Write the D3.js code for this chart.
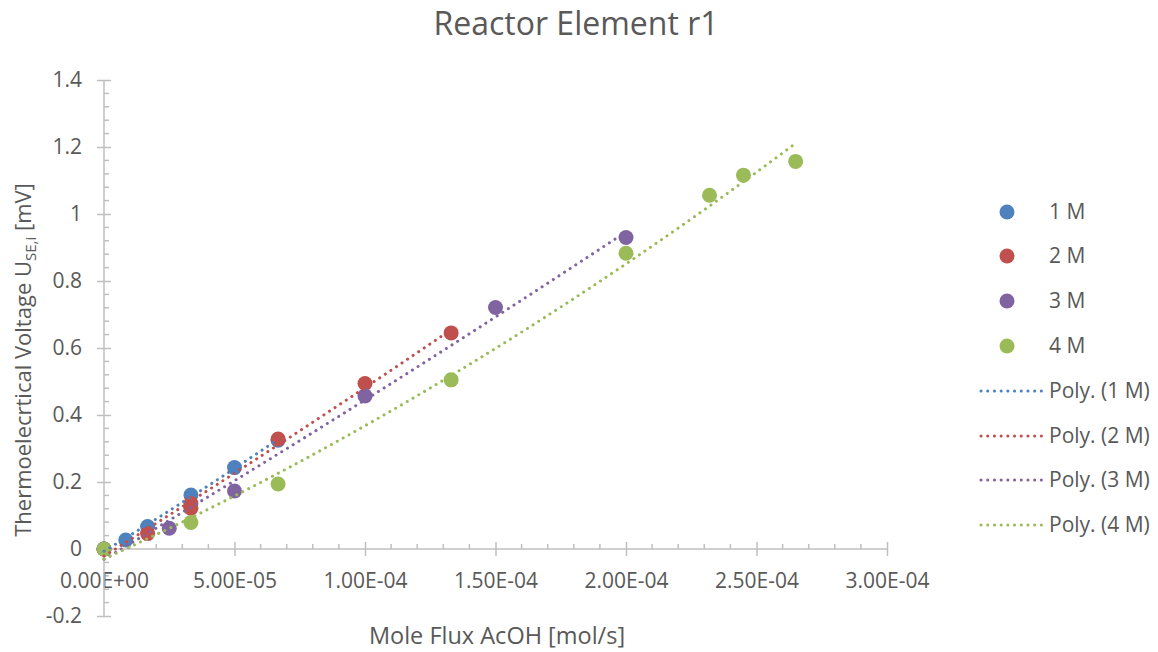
<!DOCTYPE html>
<html>
<head>
  <meta charset="utf-8">
  <title>Reactor Element r1</title>
  <script src="https://d3js.org/d3.v7.min.js"></script>
  <style>
    body { margin: 0; background: #fff; }
    svg text { font-family: "Open Sans", sans-serif; fill: #595959; }
  </style>
</head>
<body>
<div id="chart"></div>
<script>

// Data
const seriesNames = ["1 M", "2 M", "3 M", "4 M"];
const seriesColors = ["#4f81bd", "#c0504d", "#8064a2", "#9bbb59"];

const flux1 = [0, 8.33e-6, 1.67e-5, 3.33e-5, 5.0e-5, 6.67e-5];
const volt1 = [0, 0.027, 0.067, 0.161, 0.243, 0.325];

const flux2 = [0, 1.67e-5, 3.33e-5, 3.33e-5, 6.67e-5, 1.0e-4, 1.33e-4];
const volt2 = [0, 0.046, 0.122, 0.136, 0.328, 0.494, 0.645];

const flux3 = [0, 2.5e-5, 5.0e-5, 1.0e-4, 1.5e-4, 2.0e-4];
const volt3 = [0, 0.062, 0.173, 0.457, 0.721, 0.930];

const flux4 = [0, 3.33e-5, 6.67e-5, 1.33e-4, 2.0e-4, 2.32e-4, 2.45e-4, 2.65e-4];
const volt4 = [0, 0.079, 0.194, 0.505, 0.883, 1.056, 1.116, 1.157];

const xTicks = [0, 5e-5, 1e-4, 1.5e-4, 2e-4, 2.5e-4, 3e-4];
const xTickLabels = ["0.00E+00", "5.00E-05", "1.00E-04", "1.50E-04", "2.00E-04", "2.50E-04", "3.00E-04"];
const yTicks = [-0.2, 0, 0.2, 0.4, 0.6, 0.8, 1, 1.2, 1.4];
const yTickLabels = ["-0.2", "0", "0.2", "0.4", "0.6", "0.8", "1", "1.2", "1.4"];

const allFlux = [flux1, flux2, flux3, flux4];
const allVolt = [volt1, volt2, volt3, volt4];

const W = 1158, H = 652;
const axisColor = "#bfbfbf";

const svg = d3.select("#chart").append("svg")
  .attr("width", W)
  .attr("height", H);

// scales
const x = d3.scaleLinear().domain([0, 3e-4]).range([104, 887]);
const y = d3.scaleLinear().domain([-0.2, 1.4]).range([616, 80]);

// minor ticks (inside) – 5 per major interval
svg.append("g")
  .selectAll("line")
  .data(d3.range(1, 30).filter(i => i % 5 !== 0))
  .join("line")
    .attr("x1", i => x(i * 1e-5)).attr("x2", i => x(i * 1e-5))
    .attr("y1", y(0)).attr("y2", y(0) - 5)
    .attr("stroke", axisColor).attr("stroke-width", 1.5);

svg.append("g")
  .selectAll("line")
  .data(d3.range(-5, 35).filter(i => ((i % 5) + 5) % 5 !== 0))
  .join("line")
    .attr("x1", x(0)).attr("x2", x(0) + 5)
    .attr("y1", i => y(i * 0.04)).attr("y2", i => y(i * 0.04))
    .attr("stroke", axisColor).attr("stroke-width", 1.5);

// X axis (major ticks cross the axis)
const xAxis = svg.append("g")
  .attr("transform", `translate(0,${y(0)})`)
  .call(d3.axisBottom(x).tickValues(xTicks).tickSize(7).tickPadding(17)
    .tickFormat((d, i) => xTickLabels[i]));
xAxis.selectAll(".tick line").attr("y1", -7);
xAxis.select(".domain").attr("d", `M${x(0)},0H${x(3e-4)}`);
xAxis.selectAll("line, path").attr("stroke", axisColor).attr("stroke-width", 1.5);
xAxis.selectAll("text").attr("font-size", 21).attr("fill", "#595959");

// Y axis
const yAxis = svg.append("g")
  .attr("transform", `translate(${x(0)},0)`)
  .call(d3.axisLeft(y).tickValues(yTicks).tickSize(7).tickPadding(15)
    .tickFormat((d, i) => yTickLabels[i]));
yAxis.selectAll(".tick line").attr("x1", 7);
yAxis.select(".domain").attr("d", `M0,${y(-0.2)}V${y(1.4)}`);
yAxis.selectAll("line, path").attr("stroke", axisColor).attr("stroke-width", 1.5);
yAxis.selectAll("text").attr("font-size", 21).attr("fill", "#595959");

// markers
seriesNames.forEach((name, s) => {
  svg.append("g")
    .selectAll("circle")
    .data(allFlux[s].map((f, i) => [f, allVolt[s][i]]))
    .join("circle")
      .attr("cx", d => x(d[0]))
      .attr("cy", d => y(d[1]))
      .attr("r", 7.5)
      .attr("fill", seriesColors[s]);
});

// polynomial (order 2) trendlines, least squares fit of each series
function polyFit(xs, ys) {
  const k = 1e4; // rescale x for stable sums
  let S = [0, 0, 0, 0, 0], T = [0, 0, 0];
  xs.forEach((xv, i) => {
    const t = xv * k;
    for (let p = 0; p < 5; p++) S[p] += Math.pow(t, p);
    for (let p = 0; p < 3; p++) T[p] += ys[i] * Math.pow(t, p);
  });
  const A = [[S[0], S[1], S[2], T[0]], [S[1], S[2], S[3], T[1]], [S[2], S[3], S[4], T[2]]];
  for (let c = 0; c < 3; c++) {
    for (let r = c + 1; r < 3; r++) {
      const f = A[r][c] / A[c][c];
      for (let j = c; j < 4; j++) A[r][j] -= f * A[c][j];
    }
  }
  const b = [0, 0, 0];
  for (let r = 2; r >= 0; r--) {
    let s = A[r][3];
    for (let j = r + 1; j < 3; j++) s -= A[r][j] * b[j];
    b[r] = s / A[r][r];
  }
  return xv => b[0] + b[1] * xv * k + b[2] * (xv * k) * (xv * k);
}

const line = d3.line().x(d => x(d[0])).y(d => y(d[1]));

seriesNames.forEach((name, s) => {
  const f = polyFit(allFlux[s], allVolt[s]);
  const lo = d3.min(allFlux[s]), hi = d3.max(allFlux[s]);
  const pts = d3.range(0, 81).map(i => {
    const xv = lo + (hi - lo) * i / 80;
    return [xv, f(xv)];
  });
  svg.append("path")
    .attr("d", line(pts))
    .attr("fill", "none")
    .attr("stroke", seriesColors[s])
    .attr("stroke-width", 3)
    .attr("stroke-linecap", "round")
    .attr("stroke-dasharray", "0.1 6.6");
});

// title
svg.append("text")
  .attr("x", 576).attr("y", 35)
  .attr("text-anchor", "middle")
  .attr("font-size", 32)
  .text("Reactor Element r1");

// axis titles
svg.append("text")
  .attr("x", 497).attr("y", 644)
  .attr("text-anchor", "middle")
  .attr("font-size", 23.5)
  .text("Mole Flux AcOH [mol/s]");

const yTitle = svg.append("text")
  .attr("transform", "translate(31,360) rotate(-90)")
  .attr("text-anchor", "middle")
  .attr("font-size", 22);
yTitle.append("tspan").text("Thermoelecrtical Voltage U");
yTitle.append("tspan").attr("font-size", 15).attr("dy", 5).text("SE,i");
yTitle.append("tspan").attr("dy", -5).text(" [mV]");

// legend
const legMarkerY = [212, 256, 301, 346];
const legLineY = [391, 436, 480, 525];
const legend = svg.append("g");
seriesNames.forEach((name, s) => {
  legend.append("circle")
    .attr("cx", 1007).attr("cy", legMarkerY[s]).attr("r", 7.5)
    .attr("fill", seriesColors[s]);
  legend.append("text")
    .attr("x", 1049).attr("y", legMarkerY[s]).attr("dy", "0.35em")
    .attr("font-size", 21)
    .text(name);
});
seriesNames.forEach((name, s) => {
  legend.append("line")
    .attr("x1", 981).attr("x2", 1042)
    .attr("y1", legLineY[s]).attr("y2", legLineY[s])
    .attr("stroke", seriesColors[s])
    .attr("stroke-width", 3)
    .attr("stroke-linecap", "round")
    .attr("stroke-dasharray", "0.1 6.6");
  legend.append("text")
    .attr("x", 1049).attr("y", legLineY[s]).attr("dy", "0.35em")
    .attr("font-size", 21)
    .text(`Poly. (${name})`);
});

</script>
</body>
</html>
